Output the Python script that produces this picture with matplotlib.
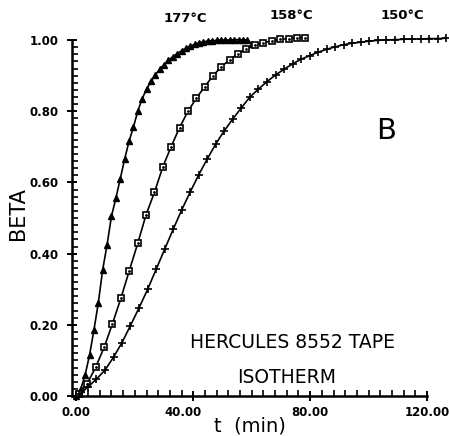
import matplotlib
matplotlib.use("Agg")
import matplotlib.pyplot as plt
import matplotlib.transforms as mtransforms
from matplotlib.ticker import MultipleLocator, FixedLocator

# 177 °C (triangles)
t_177 = [0.0, 1.5, 3.0, 4.5, 6.0, 7.5, 9.0, 10.5, 12.0, 13.5, 15.0, 16.5, 18.0, 19.5,
         21.0, 22.5, 24.0, 25.5, 27.0, 28.5, 30.0, 31.5, 33.0, 34.5, 36.0, 37.5, 39.0,
         40.5, 42.0, 43.5, 45.0, 46.5, 48.0, 49.5, 51.0, 52.5, 54.0, 55.5, 57.0, 58.5, 60.0]
beta_177 = [0.0, 0.02, 0.06, 0.115, 0.185, 0.262, 0.355, 0.425, 0.505, 0.555, 0.61, 0.665,
            0.715, 0.755, 0.80, 0.835, 0.862, 0.884, 0.902, 0.918, 0.931, 0.943, 0.953,
            0.962, 0.970, 0.977, 0.983, 0.988, 0.992, 0.995, 0.997, 0.998, 0.999, 1.0,
            1.0, 1.0, 1.001, 1.001, 1.001, 1.0, 0.99]

# 158 °C (squares)
t_158 = [0.85, 3.7, 6.6, 9.5, 12.3, 15.2, 18.1, 21.0, 23.8, 26.7, 29.6, 32.4, 35.3, 38.2,
         41.0, 43.9, 46.8, 49.6, 52.5, 55.4, 58.2, 61.1, 64.0, 66.9, 69.7, 72.6, 75.5, 78.3]
beta_158 = [0.005, 0.035, 0.081, 0.137, 0.202, 0.274, 0.352, 0.429, 0.508, 0.572, 0.644,
            0.70, 0.754, 0.80, 0.836, 0.869, 0.90, 0.925, 0.945, 0.962, 0.975, 0.985,
            0.992, 0.998, 1.002, 1.004, 1.006, 1.007]

# 150 °C (plus)
t_150 = [1.0, 3.9, 6.8, 9.8, 12.7, 15.6, 18.5, 21.4, 24.4, 27.3, 30.2, 33.1, 36.0, 39.0,
         41.9, 44.8, 47.7, 50.6, 53.6, 56.5, 59.4, 62.3, 65.2, 68.2, 71.1, 74.0, 76.9,
         79.8, 82.8, 85.7, 88.6, 91.5, 94.4, 97.4, 100.3, 103.2, 106.1, 109.0, 112.0,
         114.9, 117.8, 120.7, 123.6, 126.6]
beta_150 = [0.005, 0.025, 0.047, 0.073, 0.109, 0.15, 0.198, 0.247, 0.30, 0.356, 0.412,
            0.468, 0.522, 0.574, 0.622, 0.666, 0.708, 0.745, 0.779, 0.81, 0.84, 0.862,
            0.883, 0.902, 0.918, 0.933, 0.946, 0.956, 0.966, 0.974, 0.981, 0.987, 0.991,
            0.994, 0.997, 0.999, 1.0, 1.001, 1.002, 1.003, 1.003, 1.004, 1.004, 1.005]

x_ticks = [0, 40, 80, 120]
x_ticklabels = ["0.00", "40.00", "80.00", "120.00"]
y_ticks = [0.0, 0.2, 0.4, 0.6, 0.8, 1.0]
y_ticklabels = ["0.00", "0.20", "0.40", "0.60", "0.80", "1.00"]

fig = plt.figure(figsize=(4.49, 4.36), dpi=100)
ax = fig.add_axes([0.1604, 0.0917, 0.7906, 0.8165])

lc = "black"
ax.plot(t_177, beta_177, "-", color=lc, lw=1.2, marker="^", ms=4.5, mfc="black",
        mec="black", clip_on=False)
ax.plot(t_158, beta_158, "-", color=lc, lw=1.2, marker="s", ms=5, mfc="white",
        mec="black", mew=1.2, clip_on=False)
ax.plot(t_158, beta_158, " ", marker=".", ms=2, color="black", clip_on=False)
ax.plot(t_150, beta_150, "-", color=lc, lw=1.2, marker="+", ms=6, mew=1.2,
        clip_on=False)

ax.set_xlim(-1.5, 120)
ax.set_ylim(0, 1.0)

for s in ["top", "right"]:
    ax.spines[s].set_visible(False)
for s in ["left", "bottom"]:
    ax.spines[s].set_linewidth(1.8)

ax.xaxis.set_major_locator(FixedLocator(x_ticks))
ax.set_xticklabels(x_ticklabels, fontweight="bold", fontsize=8.5)
ax.xaxis.set_minor_locator(MultipleLocator(4))
ax.yaxis.set_major_locator(FixedLocator(y_ticks))
ax.set_yticklabels(y_ticklabels, fontweight="bold", fontsize=8.5)
ax.yaxis.set_minor_locator(MultipleLocator(0.02))

ax.tick_params(which="major", direction="inout", length=7, width=1.4)
ax.tick_params(which="minor", direction="in", length=4, width=1.2)
ax.tick_params(axis="y", which="major", pad=6)
ax.tick_params(axis="x", which="major", pad=4)

# the "40.00" label sits slightly left of its tick in the reference
lbl40 = ax.get_xticklabels()[1]
lbl40.set_transform(lbl40.get_transform() +
                    mtransforms.ScaledTranslation(-0.1, 0, fig.dpi_scale_trans))

ax.set_xlabel("t  (min)", fontsize=14, labelpad=-2)
fig.text(18 / 449, 1 - 214 / 436, "BETA", fontsize=15, rotation=90,
         ha="center", va="center")

ax.text(37.3, 1.06, "177°C", fontsize=9.5, fontweight="bold", ha="center", va="center")
ax.text(73.5, 1.07, "158°C", fontsize=9.5, fontweight="bold", ha="center", va="center")
ax.text(111.5, 1.07, "150°C", fontsize=9.5, fontweight="bold", ha="center", va="center")
ax.text(106, 0.745, "B", fontsize=21, ha="center", va="center")
ax.text(73.8, 0.15, "HERCULES 8552 TAPE", fontsize=13.5, ha="center", va="center")
ax.text(72, 0.053, "ISOTHERM", fontsize=13.5, ha="center", va="center")

fig.savefig("out.png", dpi=100)
